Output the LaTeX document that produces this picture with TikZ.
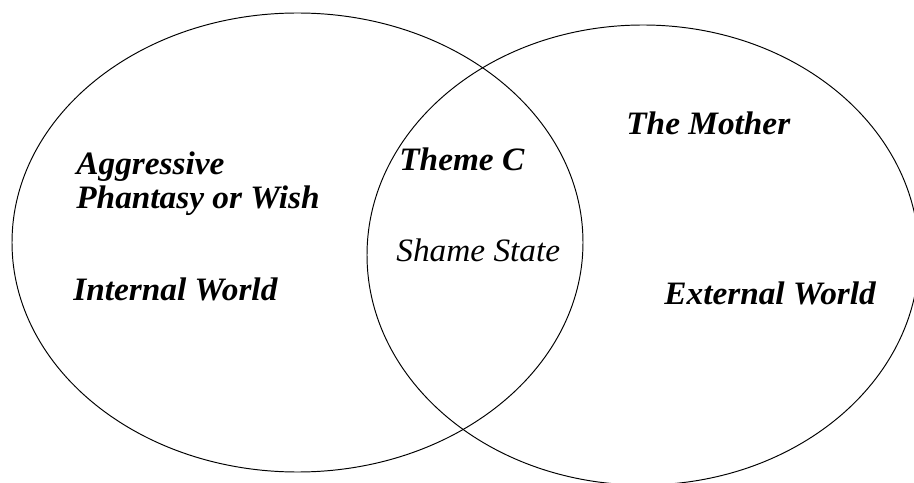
\documentclass[tikz,border=0pt]{standalone}
\usepackage{fontspec}
\setmainfont{Liberation Serif}
\tikzset{
  lbl/.style={anchor=base west, inner sep=0pt, transform shape, xscale=1.02,
    font=\fontsize{18.6}{22}\selectfont\bfseries\itshape},
  lblthin/.style={lbl, font=\fontsize{18.6}{22}\selectfont\itshape},
}
\begin{document}
\begin{tikzpicture}[x=0.02cm,y=-0.02cm]

\useasboundingbox (0,0) rectangle (914,483);
\clip (0,0) rectangle (914,483);

% Internal world
\begin{scope}

\draw[line width=0.55pt] (297.5,242.5) ellipse [x radius=285.5, y radius=229.5];

\node[lbl] (aggr) at (76,175) {Aggressive};
\node[lbl] (phant) at (76,209) {Phantasy or Wish};
\node[lbl] (intw) at (73,300) {Internal World};

\end{scope}

% External world
\begin{scope}

\draw[line width=0.55pt] (643,255) ellipse [x radius=276, y radius=230];

\node[lbl] (mother) at (626,135) {The Mother};
\node[lbl] (extw) at (664,305) {External World};

\end{scope}

% Overlap
\node[lbl] (theme) at (399,171) {Theme C};
\node[lblthin] (shame) at (396,261) {Shame State};

\end{tikzpicture}
\end{document}
